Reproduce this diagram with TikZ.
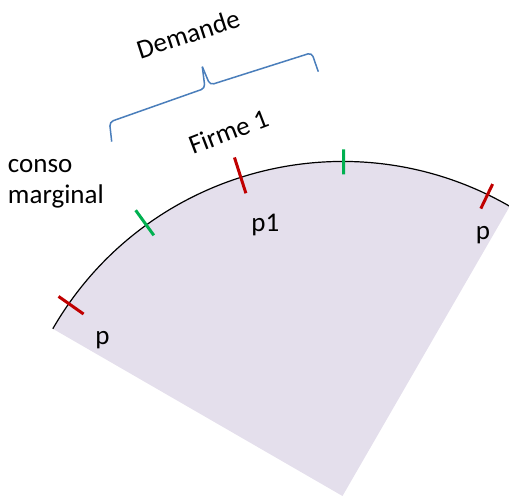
\documentclass[tikz,border=0pt]{standalone}
\usepackage{fontspec}
\setmainfont{Carlito}
\definecolor{lav}{HTML}{E4DFEC}
\definecolor{tickred}{HTML}{C00000}
\definecolor{tickgreen}{HTML}{00B050}
\definecolor{braceblue}{HTML}{4A7EBB}
\begin{document}
\begin{tikzpicture}[x=1pt,y=1pt,
  lbl/.style={font=\fontsize{27}{32}\selectfont, inner sep=0pt, outer sep=0pt},
  redtick/.style={draw=tickred, line width=3pt},
  greentick/.style={draw=tickgreen, line width=3pt},
  bracestyle/.style={draw=braceblue, line width=1.5pt, rounded corners=4pt, line join=round},
  arcline/.style={draw=black, line width=1.2pt}]
\useasboundingbox (0,0) rectangle (509,496);
\coordinate (C) at (342.5,0);
% sector
\fill[lav] (C) -- ([shift={(C)}]60:334.5) arc[start angle=60,end angle=150,radius=334.5] -- cycle;
\draw[arcline] ([shift={(C)}]60:334.5) arc[start angle=60,end angle=150,radius=334.5];
% ticks
\draw[redtick]   ([shift={(C)}]144.9:316.5) -- ([shift={(C)}]144.9:347.1);
\draw[greentick] ([shift={(C)}]125.9:321.8) -- ([shift={(C)}]125.9:352.8);
\draw[redtick]   ([shift={(C)}]107.7:317.8) -- ([shift={(C)}]107.7:355.4);
\draw[greentick] ([shift={(C)}]89.8:321.7) -- ([shift={(C)}]89.8:346.7);
\draw[redtick]   ([shift={(C)}]64.3:319.0) -- ([shift={(C)}]64.3:346.2);
% brace
\draw[bracestyle] (111.7,354.3) -- (109.5,374) -- (205,407.7) -- (202.3,429.3);
\draw[bracestyle] (202.3,429.3) -- (210,411) -- (311.7,443.3) -- (318.3,424.3);
% labels
\node[lbl, anchor=base] (pleft) at (102.5,152) {p};
\node[lbl, anchor=base] (pone) at (265.3,264.4) {p1};
\node[lbl, anchor=base] (pright) at (483,256) {p};
\node[lbl, anchor=base west] (conso) at (8,323.3) {conso};
\node[lbl, anchor=base west] (marginal) at (8,292.7) {marginal};
\node[lbl, anchor=base, rotate=21] (firme) at (231.7,356) {Firme 1};
\node[lbl, anchor=base, rotate=18] (demande) at (191,453.3) {Demande};
\end{tikzpicture}
\end{document}
